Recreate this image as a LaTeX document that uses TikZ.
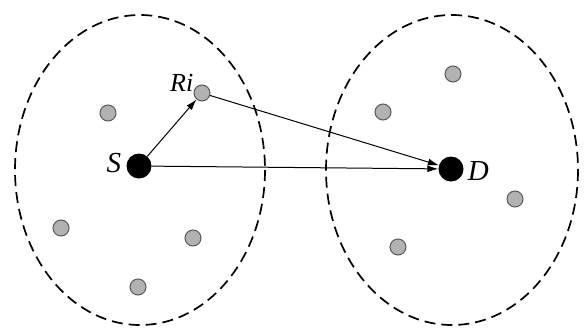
\documentclass[tikz,border=0pt]{standalone}
\usepackage{fontspec}
\setmainfont{Liberation Serif}
\usetikzlibrary{arrows.meta}
\begin{document}
\begin{tikzpicture}[x=1pt,y=-1pt,
  relay/.style={circle,draw=black!65,fill=black!30,line width=1pt,minimum size=16pt,inner sep=0pt},
  terminal/.style={circle,fill=black,minimum size=25pt,inner sep=0pt},
  lbl/.style={font=\fontsize{29}{33}\selectfont\itshape,inner sep=0pt},
  zone/.style={draw,line width=1.7pt,dash pattern=on 11pt off 6pt},
  link/.style={draw,line width=1pt,-{Latex[length=11pt,width=7pt]}}]
\useasboundingbox (0,0) rectangle (585,327);
\fill[white] (0,0) rectangle (585,327);
\draw[zone] (140,170) ellipse [x radius=125, y radius=155];
\draw[zone] (452,170) ellipse [x radius=126, y radius=155];
\node[terminal] (S) at (139,166) {};
\node[terminal] (D) at (451,169) {};
\node[relay] (Ri) at (202,93) {};
\node[relay] (a1) at (108,113) {};
\node[relay] (a2) at (61,228) {};
\node[relay] (a3) at (193,238) {};
\node[relay] (a4) at (138,287) {};
\node[relay] (b1) at (453,74) {};
\node[relay] (b2) at (383,112) {};
\node[relay] (b3) at (515,199) {};
\node[relay] (b4) at (398,247) {};
\node[lbl,anchor=east] (lS) at ([xshift=-5pt,yshift=3pt]S.west) {S};
\node[lbl,anchor=west] (lD) at ([xshift=4pt,yshift=-2pt]D.east) {D};
\node[lbl,anchor=east,font=\fontsize{26}{30}\selectfont\itshape] (lR) at ([xshift=0pt,yshift=10pt]Ri.west) {Ri};
\path[link] (S) -- (Ri);
\path[link] (S) -- (D);
\path[link] (Ri) -- (D);
\end{tikzpicture}
\end{document}
